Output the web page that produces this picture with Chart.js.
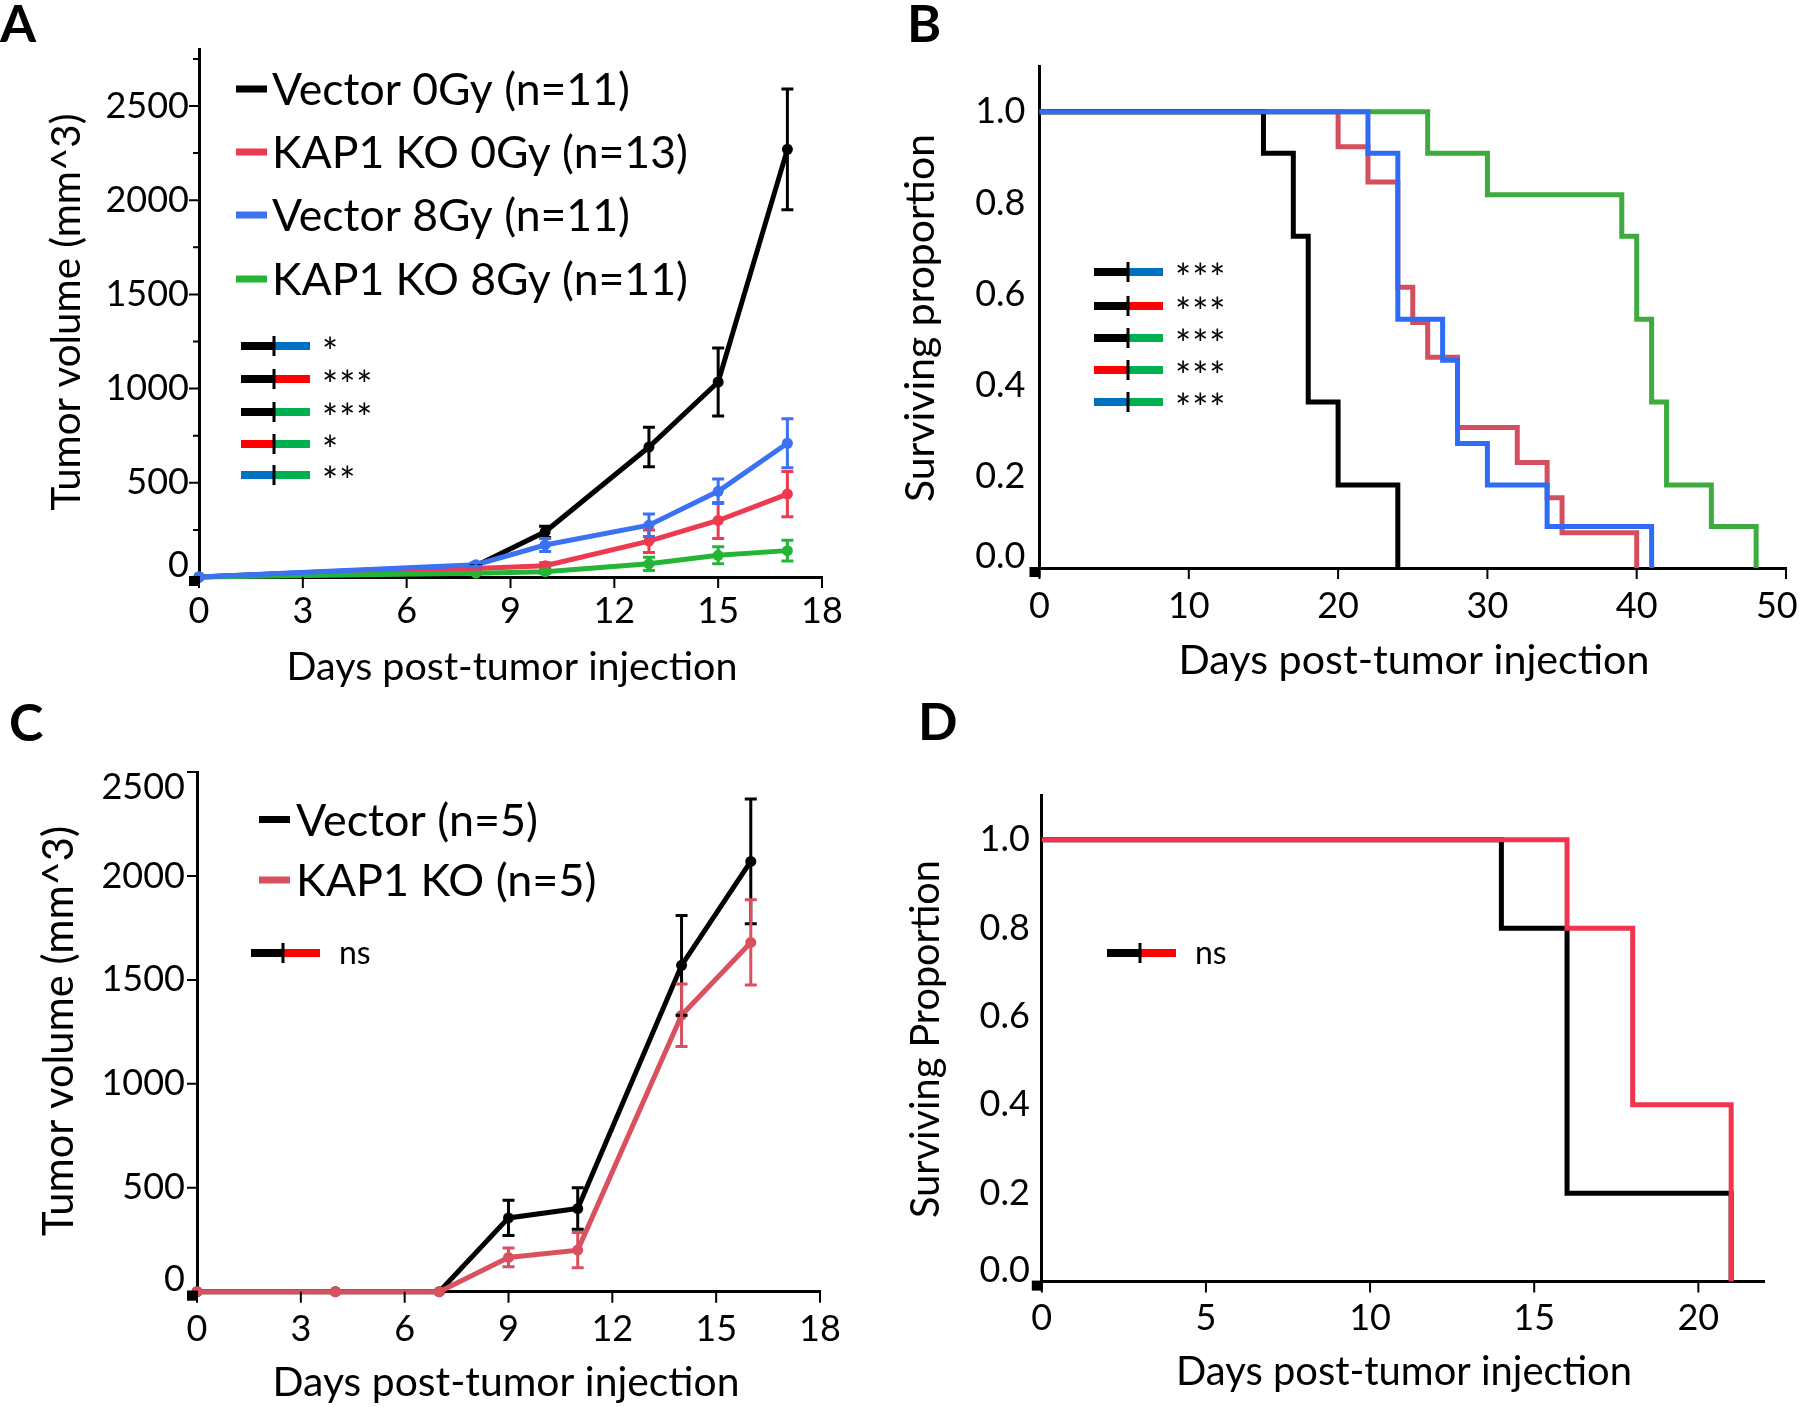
<!doctype html>
<html lang="en">
<head>
  <meta charset="utf-8">
  <title>KAP1 KO tumour growth and survival</title>
  <style>
    * { margin: 0; padding: 0; }
    body { width: 1800px; height: 1407px; background: white; position: relative; overflow: hidden; }
    canvas { position: absolute; }
    #chartA { left: 0; top: 0; }
    #chartB { left: 900px; top: 0; }
    #chartC { left: 0; top: 700px; }
    #chartD { left: 900px; top: 700px; }
  </style>
</head>
<body>
  <canvas id="chartA" width="900" height="700"></canvas>
  <canvas id="chartB" width="900" height="700"></canvas>
  <canvas id="chartC" width="900" height="707"></canvas>
  <canvas id="chartD" width="900" height="707"></canvas>
  <script src="https://cdn.jsdelivr.net/npm/chart.js"></script>
  <script>
    // ---- panel A: tumour volume, 4 groups ----
    const seriesA = ['Vector 0Gy (n=11)', 'KAP1 KO 0Gy (n=13)', 'Vector 8Gy (n=11)', 'KAP1 KO 8Gy (n=11)'];
    const daysA = [0, 8, 10, 13, 15, 17];
    const vec0A = [0, 60, 240, 690, 1035, 2270];
    const vec0AErr = [0, 10, 30, 105, 180, 320];
    const ko0A = [0, 45, 60, 190, 300, 440];
    const ko0AErr = [0, 8, 15, 60, 95, 120];
    const vec8A = [0, 65, 170, 275, 455, 710];
    const vec8AErr = [0, 10, 35, 60, 65, 130];
    const ko8A = [0, 20, 28, 70, 115, 140];
    const ko8AErr = [0, 5, 10, 35, 45, 55];
    const xTicksA = [0, 3, 6, 9, 12, 15, 18];
    const yTicksA = [0, 500, 1000, 1500, 2000, 2500];
    const yMinorA = [250, 750, 1250, 1750, 2250, 2750];
    const sigA = ['*', '***', '***', '*', '**'];

    // ---- panel B: survival, 4 groups ----
    const tVec0B = [0, 15, 17, 18, 20, 24];
    const sVec0B = [1, 0.909, 0.727, 0.364, 0.182, 0];
    const tKo0B = [0, 20, 22, 24, 25, 26, 28, 32, 34, 35, 40];
    const sKo0B = [1, 0.923, 0.846, 0.615, 0.538, 0.462, 0.308, 0.231, 0.154, 0.077, 0];
    const tVec8B = [0, 22, 24, 27, 28, 30, 34, 41];
    const sVec8B = [1, 0.909, 0.545, 0.455, 0.273, 0.182, 0.091, 0];
    const tKo8B = [0, 26, 30, 39, 40, 41, 42, 45, 48];
    const sKo8B = [1, 0.909, 0.818, 0.727, 0.545, 0.364, 0.182, 0.091, 0];
    const xTicksB = [0, 10, 20, 30, 40, 50];
    const yTicksB = [0, 0.2, 0.4, 0.6, 0.8, 1.0];
    const sigB = ['***', '***', '***', '***', '***'];

    // ---- panel C: tumour volume, 2 groups ----
    const seriesC = ['Vector (n=5)', 'KAP1 KO (n=5)'];
    const daysC = [0, 4, 7, 9, 11, 14, 16];
    const vecC = [0, 0, 0, 355, 400, 1570, 2070];
    const vecCErr = [0, 0, 0, 85, 100, 240, 300];
    const koC = [0, 0, 0, 165, 200, 1330, 1680];
    const koCErr = [0, 0, 0, 45, 85, 150, 205];
    const xTicksC = [0, 3, 6, 9, 12, 15, 18];
    const yTicksC = [0, 500, 1000, 1500, 2000, 2500];

    // ---- panel D: survival, 2 groups ----
    const tVecD = [0, 14, 16, 21];
    const sVecD = [1, 0.8, 0.2, 0];
    const tKoD = [0, 16, 18, 21];
    const sKoD = [1, 0.8, 0.4, 0];
    const xTicksD = [0, 5, 10, 15, 20];
    const yTicksD = [0, 0.2, 0.4, 0.6, 0.8, 1.0];

    const FONT = 'Lato, "Open Sans", sans-serif';
    const BLACK = '#000000';
    const SB = '#0070c0', SR = '#ff0000', SG = '#00b050';

    const pts = (xs, ys) => xs.map((x, i) => ({ x: x, y: ys[i] }));

    function growthSet(label, xs, ys, errs, color, order) {
      return {
        label, data: pts(xs, ys), errs, order,
        borderColor: color, backgroundColor: color, borderWidth: 5,
        pointRadius: 5.5, pointBorderWidth: 0, pointBackgroundColor: color,
        tension: 0, clip: false
      };
    }

    function survivalSet(label, xs, ys, color, order) {
      return {
        label, data: pts(xs, ys), order,
        borderColor: color, borderWidth: 5, pointRadius: 0,
        stepped: 'before', borderJoinStyle: 'miter', borderCapStyle: 'butt', clip: false
      };
    }

    function yAxis(width, min, max, tickVals, pad, fmt, nudge) {
      return {
        type: 'linear', min, max,
        grid: { display: false, drawTicks: false },
        border: { display: true, color: BLACK, width: 3 },
        afterBuildTicks: s => { s.ticks = tickVals.map(v => ({ value: v })); },
        afterFit: s => { s.width = width; s.paddingTop = 0; s.paddingBottom = 0; },
        ticks: {
          padding: pad, color: BLACK, autoSkip: false,
          font: c => ({ family: FONT, size: 36, lineHeight: (c.tick && nudge[c.tick.value]) ? Math.abs(2 * nudge[c.tick.value]) + 'px' : 1.2 }),
          callback: v => { const s = fmt(v); const n = nudge[v]; return !n ? s : (n < 0 ? [s, ''] : ['', s]); }
        }
      };
    }

    function xAxis(height, min, max, tickVals, pad, fmt) {
      return {
        type: 'linear', min, max,
        grid: { display: false, drawTicks: false },
        border: { display: true, color: BLACK, width: 3 },
        afterBuildTicks: s => { s.ticks = tickVals.map(v => ({ value: v })); },
        afterFit: s => { s.height = height; s.paddingLeft = 0; s.paddingRight = 0; },
        ticks: { padding: pad, color: BLACK, autoSkip: false, maxRotation: 0, minRotation: 0, font: { family: FONT, size: 36 }, callback: fmt }
      };
    }

    // font size that makes text span the given width
    function fitSize(ctx, text, width, weight) {
      ctx.font = (weight || '') + ' 100px ' + FONT;
      return 100 * width / ctx.measureText(text).width;
    }

    // error bars (mean +/- sem) drawn from each dataset's errs array
    const errorBars = {
      id: 'errorBars',
      afterDatasetsDraw(chart) {
        const ctx = chart.ctx, xs = chart.scales.x, ys = chart.scales.y;
        const sets = chart.data.datasets.filter(d => d.errs).sort((a, b) => b.order - a.order);
        ctx.save();
        ctx.lineWidth = 3;
        sets.forEach(d => {
          ctx.strokeStyle = d.borderColor;
          d.data.forEach((p, j) => {
            const e = d.errs[j];
            if (!e) return;
            const px = xs.getPixelForValue(p.x);
            const top = ys.getPixelForValue(p.y + e), bot = ys.getPixelForValue(p.y - e);
            ctx.beginPath();
            ctx.moveTo(px, top); ctx.lineTo(px, bot);
            ctx.moveTo(px - 6, top); ctx.lineTo(px + 6, top);
            ctx.moveTo(px - 6, bot); ctx.lineTo(px + 6, bot);
            ctx.stroke();
          });
        });
        ctx.restore();
      }
    };

    // tick marks, panel letter, axis titles and legends
    function decor(cfg) {
      return {
        id: 'decor',
        afterDraw(chart) {
          const ctx = chart.ctx, xs = chart.scales.x, ys = chart.scales.y;
          const left = chart.chartArea.left, bottom = chart.chartArea.bottom;
          ctx.save();
          ctx.fillStyle = BLACK;
          ctx.strokeStyle = BLACK;
          ctx.lineWidth = 2;
          ctx.beginPath();
          (cfg.xMarks || []).forEach(v => { const p = xs.getPixelForValue(v); ctx.moveTo(p, bottom); ctx.lineTo(p, bottom + 11); });
          (cfg.yMarks || []).forEach(v => { const p = ys.getPixelForValue(v); ctx.moveTo(left, p); ctx.lineTo(left - 10, p); });
          (cfg.yMinor || []).forEach(v => { const p = ys.getPixelForValue(v); ctx.moveTo(left, p); ctx.lineTo(left - 6, p); });
          ctx.stroke();
          ctx.fillRect(left - 10, bottom - 1, 11, 10);

          ctx.textAlign = 'left';
          ctx.textBaseline = 'alphabetic';
          ctx.font = 'bold 52px ' + FONT;
          ctx.fillText(cfg.letter[0], cfg.letter[1], cfg.letter[2]);

          // axis titles: [text, centre x, baseline y, width]
          ctx.textAlign = 'center';
          let s = fitSize(ctx, cfg.xTitle[0], cfg.xTitle[3]);
          ctx.font = s + 'px ' + FONT;
          ctx.fillText(cfg.xTitle[0], cfg.xTitle[1], cfg.xTitle[2]);
          // y title: [text, cap-centre x, centre y, length]
          s = fitSize(ctx, cfg.yTitle[0], cfg.yTitle[3]);
          ctx.save();
          ctx.translate(cfg.yTitle[1] + 0.36 * s, cfg.yTitle[2]);
          ctx.rotate(-Math.PI / 2);
          ctx.font = s + 'px ' + FONT;
          ctx.fillText(cfg.yTitle[0], 0, 0);
          ctx.restore();

          if (cfg.legend) {
            const L = cfg.legend;
            const size = fitSize(ctx, L.labels[0], L.width);
            ctx.textAlign = 'left';
            ctx.font = size + 'px ' + FONT;
            L.labels.forEach((t, i) => {
              ctx.fillStyle = L.colors[i];
              ctx.fillRect(L.x1, L.ys[i] - 3.5, L.x2 - L.x1, 7);
              ctx.fillStyle = BLACK;
              ctx.fillText(t, L.tx, L.ys[i] + size * 0.36);
            });
          }

          if (cfg.sig) {
            const S = cfg.sig;
            ctx.textAlign = 'left';
            ctx.font = S.size + 'px ' + FONT;
            ctx.letterSpacing = S.spacing + 'px';
            S.labels.forEach((t, i) => {
              const y = S.ys[i];
              ctx.fillStyle = S.pairs[i][0];
              ctx.fillRect(S.x1, y - 4, S.xm - S.x1, 8);
              ctx.fillStyle = S.pairs[i][1];
              ctx.fillRect(S.xm, y - 4, S.x2 - S.xm, 8);
              ctx.fillStyle = BLACK;
              ctx.fillRect(S.xm - 1.5, y - 10, 3, 20);
              ctx.fillText(t, S.tx, y + S.base);
            });
          }
          ctx.restore();
        }
      };
    }

    function makeChart(id, datasets, scales, padding, extra) {
      return new Chart(document.getElementById(id), {
        type: 'line',
        data: { datasets },
        options: {
          responsive: false, animation: false, events: [],
          layout: { padding },
          scales,
          plugins: { legend: { display: false }, tooltip: { enabled: false } }
        },
        plugins: [errorBars, decor(extra)]
      });
    }

    const intFmt = v => String(v);
    const decFmt = v => v.toFixed(1);

    // A
    makeChart('chartA', [
      growthSet(seriesA[0], daysA, vec0A, vec0AErr, BLACK, 3),
      growthSet(seriesA[1], daysA, ko0A, ko0AErr, '#ee3a50', 2),
      growthSet(seriesA[2], daysA, vec8A, vec8AErr, '#3a72f2', 0),
      growthSet(seriesA[3], daysA, ko8A, ko8AErr, '#25b536', 1)
    ], {
      x: xAxis(123, 0, 18, xTicksA, 13, intFmt),
      y: yAxis(199, 0, 2800, yTicksA, 10, intFmt, { 0: -12 })
    }, { left: 0, top: 49.5, right: 78, bottom: 0 }, {
      xMarks: xTicksA, yMarks: yTicksA, yMinor: yMinorA,
      letter: ['A', 0, 42],
      yTitle: ['Tumor volume (mm^3)', 65, 312, 397],
      xTitle: ['Days post-tumor injection', 512, 680, 451],
      legend: { labels: seriesA, colors: [BLACK, '#ee3a50', '#3a72f2', '#25b536'], x1: 236, x2: 267, tx: 272, width: 358, ys: [89, 152, 215, 279] },
      sig: { labels: sigA, pairs: [[BLACK, SB], [BLACK, SR], [BLACK, SG], [SR, SG], [SB, SG]], x1: 241, xm: 274, x2: 310, tx: 322, size: 38, spacing: 1, base: 20, ys: [346, 379, 412, 444, 475] }
    });

    // B
    makeChart('chartB', [
      survivalSet('Vector 0Gy', tVec0B, sVec0B, BLACK, 1),
      survivalSet('KAP1 KO 0Gy', tKo0B, sKo0B, '#d34f5d', 2),
      survivalSet('Vector 8Gy', tVec8B, sVec8B, '#2f6cf5', 0),
      survivalSet('KAP1 KO 8Gy', tKo8B, sKo8B, '#3dab3d', 3)
    ], {
      x: xAxis(132, 0, 50, xTicksB, 17, v => v === 50 ? '50  ' : String(v)),
      y: yAxis(139.5, 0, 1.1, yTicksB, 14, decFmt, { 0: -12 })
    }, { left: 0, top: 66, right: 14, bottom: 0 }, {
      xMarks: xTicksB,
      letter: ['B', 7, 42],
      yTitle: ['Surviving proportion', 19, 318, 368],
      xTitle: ['Days post-tumor injection', 514, 674, 471],
      sig: { labels: sigB, pairs: [[BLACK, SB], [BLACK, SR], [BLACK, SG], [SR, SG], [SB, SG]], x1: 194, xm: 228, x2: 263, tx: 275, size: 38, spacing: 1, base: 20, ys: [272, 306, 338, 370, 402] }
    });

    // C
    makeChart('chartC', [
      growthSet(seriesC[0], daysC, vecC, vecCErr, BLACK, 1),
      growthSet(seriesC[1], daysC, koC, koCErr, '#d9515f', 0)
    ], {
      x: xAxis(115.3, 0, 18, xTicksC, 16, intFmt),
      y: yAxis(197, 0, 2500, yTicksC, 12, intFmt, { 0: -12.5, 2500: 15 })
    }, { left: 0, top: 72, right: 80, bottom: 0 }, {
      xMarks: xTicksC, yMarks: yTicksC,
      letter: ['C', 9, 41],
      yTitle: ['Tumor volume (mm^3)', 58, 331, 410],
      xTitle: ['Days post-tumor injection', 506, 696, 467],
      legend: { labels: seriesC, colors: [BLACK, '#d9515f'], x1: 259, x2: 290, tx: 296, width: 242, ys: [119.5, 180] },
      sig: { labels: ['ns'], pairs: [[BLACK, SR]], x1: 251, xm: 283, x2: 320, tx: 339, size: 32, spacing: 0, base: 11, ys: [253] }
    });

    // D
    makeChart('chartD', [
      survivalSet('Vector', tVecD, sVecD, BLACK, 1),
      survivalSet('KAP1 KO', tKoD, sKoD, '#f2354f', 0)
    ], {
      x: xAxis(125.4, 0, 22, xTicksD, 15, intFmt),
      y: yAxis(141.8, 0, 1.1, yTicksD, 12, decFmt, { 0: -11.6 })
    }, { left: 0, top: 95.6, right: 36, bottom: 0 }, {
      xMarks: xTicksD,
      letter: ['D', 18, 40],
      yTitle: ['Surviving Proportion', 25, 339, 358],
      xTitle: ['Days post-tumor injection', 504, 685, 456],
      sig: { labels: ['ns'], pairs: [[BLACK, SR]], x1: 207, xm: 240, x2: 276, tx: 295, size: 32, spacing: 0, base: 11, ys: [253] }
    });
  </script>
</body>
</html>
